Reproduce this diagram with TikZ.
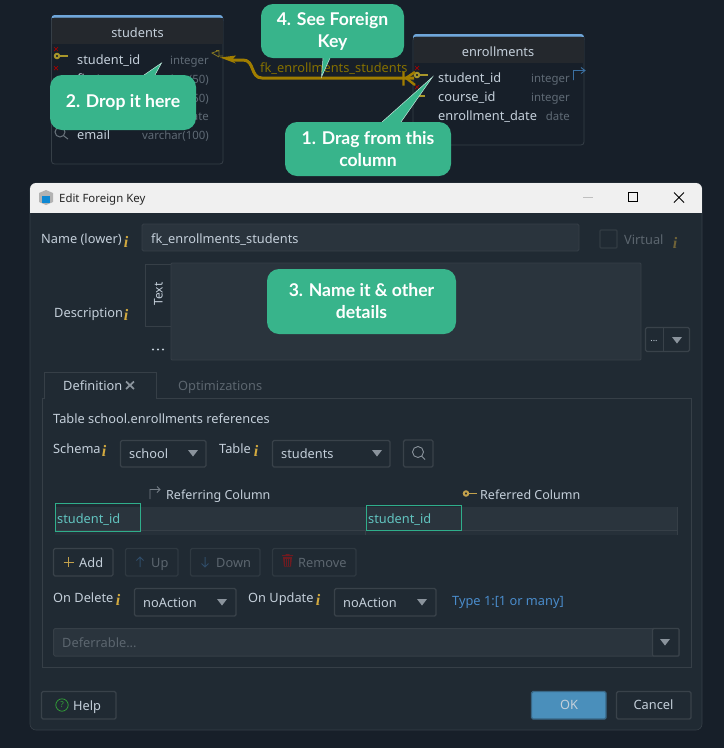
\documentclass[tikz,border=0pt]{standalone}
\usepackage{fontspec}
\setmainfont{Noto Sans}
\newfontfamily\callfont{Lato}
\newfontfamily\ifont{Liberation Serif}
\usetikzlibrary{arrows.meta,calc}
\definecolor{pagebg}{HTML}{171F29}
\definecolor{dlg}{HTML}{202A33}
\definecolor{fieldbg}{HTML}{2A343D}
\definecolor{edge}{HTML}{363F47}
\definecolor{edgeb}{HTML}{39424A}
\definecolor{uitext}{HTML}{C4CFDA}
\definecolor{dimtext}{HTML}{5C666F}
\definecolor{typetext}{HTML}{5F6A75}
\definecolor{callout}{HTML}{38B48B}
\definecolor{fkgold}{HTML}{A07D00}
\definecolor{fktext}{HTML}{857000}
\definecolor{keygold}{HTML}{A8962A}
\definecolor{infogold}{HTML}{D2A93F}
\definecolor{headbg}{HTML}{24282D}
\definecolor{strip}{HTML}{6FA6DA}
\definecolor{tealedge}{HTML}{2FAE8B}
\definecolor{tealtext}{HTML}{62C4C0}
\definecolor{linkblue}{HTML}{4A8CCB}
\definecolor{okblue}{HTML}{4A8FBB}
\definecolor{tri}{HTML}{8A939C}
\tikzset{
  ui/.style={anchor=base west,inner sep=0pt,font=\fontsize{12.8}{15}\selectfont,text=uitext},
  uir/.style={ui,anchor=base east,text=typetext,font=\fontsize{11.4}{15}\selectfont},
  uic/.style={ui,anchor=center},
  dim/.style={ui,text=dimtext},
  info/.style={anchor=center,inner sep=0pt,font=\fontsize{16}{16}\ifont\bfseries\itshape,text=infogold},
  field/.style={draw=edge,fill=fieldbg,line width=0.8pt,rounded corners=1.5pt},
  combo/.style={draw=edgeb,fill=dlg,line width=1.4pt,rounded corners=1.5pt},
  btnoff/.style={draw=#1,fill=dlg,line width=1.2pt,rounded corners=1.5pt},
  btnoff/.default=edge!70!dlg,
  tablebox/.style={draw=edge,fill=pagebg,line width=0.8pt,rounded corners=3pt},
  calloutbox/.style={fill=callout,rounded corners=12pt,text=white,align=center,inner sep=0pt,
     font=\fontsize{17.6}{22}\callfont\bfseries},
  tail/.style={fill=callout,draw=white!70!callout,line width=0.5pt},
  tip/.style={fill=tri,draw=none},
}
\newcommand{\dtri}[2]{\fill[tip] (#1-5,#2-3) -- (#1+5,#2-3) -- (#1,#2+3.5) -- cycle;}
\newcommand{\keyicon}[3]{\draw[#3,line width=1.8pt] (#1+5,#2) -- (#1+14,#2); \draw[#3,line width=2pt] (#1+3,#2) circle (2.2); }
\newcommand{\redx}[2]{\draw[red!65!black,line width=0.7pt] (#1-2,#2-2) -- (#1+2,#2+2) (#1-2,#2+2) -- (#1+2,#2-2);}
\begin{document}
\begin{tikzpicture}[x=1pt,y=-1pt]
\useasboundingbox (0,0) rectangle (724,748);
\fill[pagebg] (0,0) rectangle (724,748);
% ---- students table
\fill[strip,rounded corners=3pt] (51.5,15) rectangle (223,24);
\draw[tablebox] (51.5,18) rectangle (223,164);
\fill[headbg] (52,18) rectangle (222.6,44);
\node[uic] (stTitle) at (137.5,33) {students};
\node[ui] (stId) at (77,64) {student\_id};
\node[uir] (stIdT) at (209,64) {integer};
\node[ui] (stFn) at (77,83) {first\_name};
\node[uir] (stFnT) at (209,83) {varchar(50)};
\node[uir] (stLnT) at (209,102) {varchar(50)};
\node[uir] (stBdT) at (209,120) {date};
\node[ui] (stEm) at (77,139) {email};
\node[uir] (stEmT) at (209,139) {varchar(100)};
\redx{56}{49}\redx{56}{68}
\keyicon{54}{56}{keygold}
\draw[tri!70!dlg,line width=1pt] (60,132) circle (5) (64,136) -- (68,139);
\draw[keygold!80!black,line width=0.8pt] (223,56) -- (219,56) -- (219,50.5) -- (212,53) -- (219,57)
   (219,50.5) -- (216,50.5);
% ---- enrollments table
\fill[strip,rounded corners=3pt] (413,34) rectangle (584,43);
\draw[tablebox] (413,37) rectangle (584,145);
\fill[headbg] (413.5,37) rectangle (583.6,63);
\node[uic] (enTitle) at (498,52) {enrollments};
\node[ui] (enSid) at (438,82) {student\_id};
\node[uir] (enSidT) at (570,82) {integer};
\node[ui] (enCid) at (438,101) {course\_id};
\node[uir] (enCidT) at (570,101) {integer};
\node[ui] (enDt) at (438,120) {enrollment\_date};
\node[uir] (enDtT) at (570,120) {date};
\redx{417}{68}\redx{417}{87}
\keyicon{414}{75}{keygold}
\draw[keygold,line width=1.4pt] (419,96) -- (425,96);
\draw[linkblue!80!black,line width=0.9pt] (573.5,80) -- (573.5,70.5) -- (585,70.5) (581,67.5) -- (585,70.5) -- (581,73.5);
% ---- connector
\coordinate (fkFrom) at (414,78);
\coordinate (fkTo) at (220,57.5);
\draw[fkgold,line width=3pt,line join=round] (fkFrom) -- (262,78) .. controls (250,78) and (255,60) .. (243,60) -- (232,60);
\fill[fkgold] (fkTo) -- (236,55.5) -- (232,60) -- (236,63.5) -- cycle;
\draw[fkgold,line width=2.4pt] (406,78) -- (415,72) (406,78) -- (415,85) (403.5,71.5) -- (403.5,85.5);
\node[ui,text=fktext] (fkLabel) at (260,72) {fk\_enrollments\_students};
% ---- dialog
\fill[dlg,draw=edge,line width=0.6pt,rounded corners=6pt] (30,183) rectangle (702,730);
\begin{scope}
\clip[rounded corners=6pt] (30,183) rectangle (702,730);
\fill[white!94!black] (30,183) rectangle (702,213);
\end{scope}
\fill[gray!60] (39,193) -- (46,190) -- (53,193) -- (53,202) -- (46,205) -- (39,202) -- cycle;
\fill[cyan!70!blue] (42,196) rectangle (50,203);
\node[ui,text=black!85,font=\fontsize{11.4}{15}\selectfont] (dlgTitle) at (59,202) {Edit Foreign Key};
\draw[gray!50,line width=0.8pt] (583,197) -- (593,197);
\draw[black,line width=1pt] (628.5,192.5) rectangle (637.5,201.5);
\draw[black,line width=0.9pt] (674,192.5) -- (684,202.5) (674,202.5) -- (684,192.5);
% name row
\node[ui] (nameL) at (41,243) {Name (lower)};
\node[info] (nameI) at (126,242) {i};
\draw[field] (142,224) rectangle (579,251);
\node[ui] (nameV) at (151,243) {fk\_enrollments\_students};
\draw[edge!80!dlg,line width=1.2pt,rounded corners=1pt] (600,230) rectangle (617,248);
\node[dim] (virtL) at (624,244) {Virtual};
\node[info,text=infogold!45!dlg] (virtI) at (675,243) {i};
% description
\node[ui] (descL) at (54,317) {Description};
\node[info] (descI) at (126,315) {i};
\draw[edge,line width=0.8pt] (145,264) rectangle (172,326);
\node[uic,rotate=90,font=\fontsize{12}{15}\selectfont] (textTab) at (158.5,294) {Text};
\draw[field,rounded corners=1pt] (171,263) rectangle (641,360);
\fill[uitext] (153,349.5) circle (1.2) (158,349.5) circle (1.2) (163,349.5) circle (1.2);
\draw[combo,line width=1.2pt] (645.5,327.5) rectangle (689.5,351.5);
\draw[edgeb,line width=1.4pt] (663.5,327.5) -- (663.5,351.5);
\node[uic,font=\fontsize{9}{10}\selectfont] (moreDots) at (654,341) {...};
\dtri{677}{340}
% tabs
\draw[edge,line width=0.8pt] (42,398) -- (44,398) -- (44,372) -- (156,372) -- (156,398) -- (691,398) -- (691,667) -- (42,667) -- cycle;
\fill[dlg] (44.5,396) rectangle (155.5,399);
\node[ui] (tabDef) at (63,390) {Definition};
\draw[tri,line width=1.7pt] (126,381.5) -- (134,389) (126,389) -- (134,381.5);
\node[dim] (tabOpt) at (178,390) {Optimizations};
\node[ui] (refL) at (53,423) {Table school.enrollments references};
% schema row
\node[ui] (schL) at (53,453) {Schema};
\node[info] (schI) at (104,451) {i};
\draw[combo] (120.5,440.5) rectangle (206,467);
\node[ui] (schV) at (129,458) {school};
\dtri{193}{453}
\node[ui] (tblL) at (219,453) {Table};
\node[info] (tblI) at (256,451) {i};
\draw[combo] (272.5,440.5) rectangle (390,467);
\node[ui] (tblV) at (281,458) {students};
\dtri{377}{453}
\draw[combo] (403.5,440) rectangle (433,467);
\draw[tri,line width=0.9pt] (418,452) circle (5.5) (422,456.5) -- (425,459.5);
% column grid
\draw[tri!80!dlg,line width=0.9pt] (150,499) -- (150,489.5) -- (160,489.5) (157,486.5) -- (160,489.5) -- (157,492.5);
\node[ui,font=\fontsize{12.5}{15}\selectfont] (ringL) at (166,499) {Referring Column};
\keyicon{463}{493.5}{infogold!80!gray}
\node[ui,font=\fontsize{12.5}{15}\selectfont] (redL) at (480,499) {Referred Column};
\fill[fieldbg] (55,507) rectangle (678,530);
\fill[fieldbg!60!dlg] (55,530) rectangle (678,535);
\draw[edge,line width=0.8pt] (55,530.5) -- (678,530.5) (365.5,530) -- (365.5,535) (677.5,507) -- (677.5,535);
\draw[tealedge,line width=0.8pt] (55.5,503.5) rectangle (140,531);
\draw[tealedge,line width=0.8pt] (366.5,505.5) rectangle (461,530.5);
\node[ui,text=tealtext] (c1) at (57,523) {student\_id};
\node[ui,text=tealtext] (c2) at (368,523) {student\_id};
% grid buttons
\draw[combo] (53.5,548.5) rectangle (113,576);
\draw[infogold!80!gray,line width=0.8pt] (63.5,562) -- (73.5,562) (68.5,557) -- (68.5,567);
\node[ui] (addB) at (79,567) {Add};
\draw[btnoff] (125.5,548.5) rectangle (178,576);
\draw[linkblue!35!dlg,line width=1pt] (140,567) -- (140,557) (136.5,560.5) -- (140,557) -- (143.5,560.5);
\node[dim] (upB) at (151,567) {Up};
\draw[btnoff] (190.5,548.5) rectangle (260,576);
\draw[linkblue!35!dlg,line width=1pt] (205,557) -- (205,567) (201.5,563.5) -- (205,567) -- (208.5,563.5);
\node[dim] (downB) at (216,567) {Down};
\draw[btnoff] (272.5,548.5) rectangle (356,576);
\fill[red!35!dlg] (283,557) -- (292,557) -- (291,566.5) -- (284,566.5) -- cycle (282,555) rectangle (293,556.2) (285.5,554) rectangle (289.5,555);
\draw[dlg,line width=0.5pt] (285.5,558.5) -- (285.5,565.5) (287.5,558.5) -- (287.5,565.5) (289.5,558.5) -- (289.5,565.5);
\node[dim] (remB) at (298,567) {Remove};
% on delete row
\node[ui] (odL) at (53,602) {On Delete};
\node[info] (odI) at (118,600) {i};
\draw[combo] (134.5,588.5) rectangle (236,616);
\node[ui] (odV) at (143,607) {noAction};
\dtri{222}{602}
\node[ui] (ouL) at (248,602) {On Update};
\node[info] (ouI) at (318,600) {i};
\draw[combo] (334.5,588.5) rectangle (436,616);
\node[ui] (ouV) at (343,607) {noAction};
\dtri{422}{602}
\node[ui,text=linkblue] (typeL) at (452,605) {Type 1:[1 or many]};
% deferrable
\draw[field,line width=1pt] (53.5,628.5) rectangle (679,656);
\draw[edgeb,line width=1.4pt,fill=dlg,rounded corners=1pt] (652.5,628.5) rectangle (679,656);
\node[dim] (defV) at (62,647) {Deferrable...};
\dtri{665}{642}
% bottom buttons
\draw[combo] (41.5,691.5) rectangle (116,719);
\draw[green!55!gray!80!dlg,line width=0.7pt] (62,705) circle (6.2);
\node[anchor=center,inner sep=0pt,text=green!55!gray!80!dlg,font=\fontsize{8}{8}\selectfont] (helpQ) at (62,705) {?};
\node[ui] (helpB) at (73,710) {Help};
\draw[draw=okblue!60!dlg,fill=okblue,line width=1.4pt,rounded corners=1.5pt] (531.5,691.5) rectangle (606,719);
\node[uic,text=uitext] (okB) at (569,705) {OK};
\draw[combo] (616.5,691.5) rectangle (691,719);
\node[uic] (canB) at (653.5,705) {Cancel};
% ---- callouts
\coordinate (tip4) at (321.5,77);
\coordinate (tip2) at (161.5,63);
\coordinate (tip1) at (432.5,77);
\draw[tail] (323,58) -- (tip4) -- (330,58);
\draw[tail] (144,75) -- (tip2) -- (155,75);
\draw[tail] (382,122) -- (tip1) -- (401,122);
\node[calloutbox,minimum width=143pt,minimum height=54pt] (c4) at (332.5,31) {4. See Foreign\\Key};
\node[calloutbox,minimum width=146pt,minimum height=55pt] (c2b) at (123,102.5) {2. Drop it here};
\node[calloutbox,minimum width=166pt,minimum height=54pt] (c1b) at (368,149) {1. Drag from this\\column};
\node[calloutbox,minimum width=189pt,minimum height=65pt] (c3) at (361.5,301.5) {3. Name it \& other\\details};
\end{tikzpicture}
\end{document}
